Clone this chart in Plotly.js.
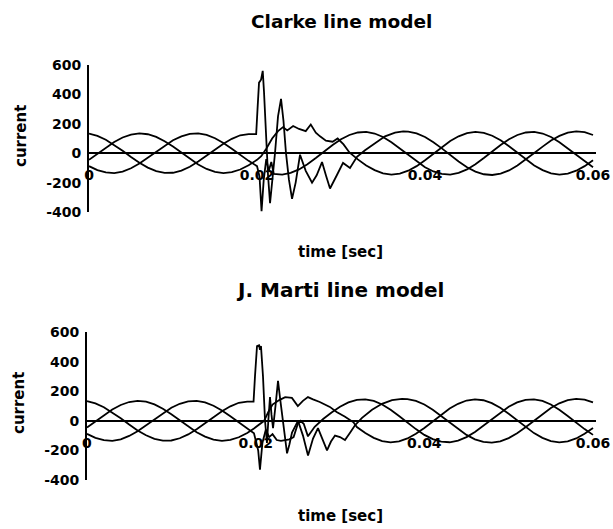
<!DOCTYPE html>
<html>
<head>
<meta charset="utf-8">
<script src="https://cdn.plot.ly/plotly-3.0.1.min.js"></script>
<style>html,body{margin:0;padding:0;background:#fff;}#chart{width:613px;height:529px;}</style>
</head>
<body>
<div id="chart"></div>
<script>
// ---- shared pre-fault samples (0 .. 0.019 s) ----
const preTime = [0,0.001,0.002,0.003,0.004,0.005,0.006,0.007,0.008,0.009,0.010,0.011,0.012,0.013,0.014,0.015,0.016,0.017,0.018,0.019];
const preA = [133,118,92,57,17,-25,-65,-98,-122,-134,-133,-118,-92,-57,-17,25,65,98,122,130];
const preB = [-45,-3,39,77,107,127,135,129,111,82,45,3,-39,-77,-107,-127,-135,-129,-111,-82];
const preC = [-88,-115,-131,-135,-125,-102,-70,-31,11,52,88,115,131,135,125,102,70,31,-11,-52];

// ---- shared post-fault samples ----
const postTimeA = [0.038,0.039,0.040,0.041,0.042,0.043,0.044,0.045,0.046,0.047,0.048,0.049,0.050,0.051,0.052,0.053,0.054,0.055,0.056,0.057,0.058,0.059,0.060];
const postA = [147,135,110,75,33,-12,-56,-95,-125,-143,-148,-139,-117,-84,-44,1,45,86,118,140,148,143,124];
const postTime = [0.032,0.033,0.034,0.035,0.036,0.037,0.038,0.039,0.040,0.041,0.042,0.043,0.044,0.045,0.046,0.047,0.048,0.049,0.050,0.051,0.052,0.053,0.054,0.055,0.056,0.057,0.058,0.059,0.060];
const postB = [-42,-83,-115,-137,-145,-139,-119,-88,-48,-3,42,83,115,137,145,139,119,88,48,3,-42,-83,-115,-137,-145,-139,-119,-88,-48];
const postC = [141,145,134,110,75,33,-12,-56,-95,-124,-141,-145,-134,-110,-75,-33,12,56,95,124,141,145,134,110,75,33,-12,-56,-95];

// ---- Clarke line model: fault transient ----
const clarkeTimeA = [0.0195,0.0199,0.02006,0.02024,0.02048,0.02068,0.02083,0.02107,0.02131,0.02155,0.02185,0.02214,0.0225,0.02286,0.02315,0.02345,0.0238,0.02417,0.0246,0.02512,0.0258,0.02655,0.0271,0.02774,0.0282,0.02869,0.0295,0.03024,0.03107,0.0319,0.03286,0.03405,0.03524,0.03643,0.0374];
const clarkeA = [130,130,300,480,500,560,420,100,-150,-340,-180,0,250,370,220,0,-180,-310,-200,-10,-120,-200,-150,-60,-150,-240,-150,-66,-100,-25,20,70,115,140,148];
const clarkeTimeB = [0.020,0.0205,0.0211,0.0218,0.0225,0.0231,0.0236,0.0243,0.025,0.0258,0.0264,0.027,0.0275,0.0282,0.029,0.0296,0.0303,0.031];
const clarkeB = [-45,-20,30,100,150,178,155,185,165,150,195,140,115,85,78,100,60,5];
const clarkeTimeC = [0.020,0.0203,0.02054,0.0208,0.0211,0.0214,0.0217,0.022,0.023,0.024,0.025,0.026,0.027,0.028,0.029,0.030,0.031];
const clarkeC = [-88,-160,-395,-180,-40,-120,-60,-141,-145,-134,-110,-75,-33,12,56,95,124];

// ---- J. Marti line model: fault transient ----
const martiTimeA = [0.0195,0.01975,0.01992,0.02016,0.0204,0.02051,0.02063,0.02087,0.02111,0.02134,0.0215,0.0217,0.02188,0.02206,0.02235,0.02265,0.0229,0.02312,0.0234,0.02372,0.024,0.02431,0.02502,0.02561,0.02621,0.0265,0.0268,0.02739,0.02799,0.02846,0.02893,0.02941,0.03,0.03059,0.03119,0.03178,0.03261,0.0338,0.03498,0.03617,0.03735];
const martiA = [130,130,300,505,510,480,505,300,0,-150,0,160,40,-50,100,270,150,40,-100,-220,-160,-80,0,-100,-235,-180,-120,-50,-140,-200,-140,-100,-110,-130,-80,-30,20,75,115,140,148];
const martiTimeB = [0.0198,0.0205,0.021,0.0215,0.022,0.0228,0.0235,0.0243,0.025,0.0256,0.0262,0.0268,0.0276,0.0288,0.0296,0.0306,0.0316];
const martiB = [-52,-25,0,60,110,140,160,155,100,135,160,145,127,94,60,27,-10];
const martiTimeC = [0.0198,0.0203,0.02051,0.0208,0.0212,0.0216,0.022,0.0225,0.023,0.024,0.0245,0.025,0.0253,0.0257,0.0262,0.027,0.028,0.029,0.030,0.031];
const martiC = [-85,-200,-330,-150,-60,-110,-90,-130,-135,-125,-110,-20,0,-20,-105,-40,12,56,95,124];

// ---- ticks & texts ----
const xTickVals = [0, 0.02, 0.04, 0.06];
const xTickText = ['0', '0.02', '0.04', '0.06'];
const yTickVals = [-400, -200, 0, 200, 400, 600];
const yTickText = ['-400', '-200', '0', '200', '400', '600'];
const titleTop = 'Clarke line model';
const titleBottom = 'J. Marti line model';
const xTitle = 'time [sec]';
const yTitle = 'current';

const FONT = 'DejaVu Sans, Arial, sans-serif';
const lineStyle = {color: '#000', width: 1.8};

function tr(x, y, xa, ya) {
  return {x: x, y: y, type: 'scatter', mode: 'lines', line: lineStyle, xaxis: xa, yaxis: ya, hoverinfo: 'skip'};
}

const data = [
  tr(preTime.concat(clarkeTimeA, postTimeA), preA.concat(clarkeA, postA), 'x', 'y'),
  tr(preTime.concat(clarkeTimeB, postTime), preB.concat(clarkeB, postB), 'x', 'y'),
  tr(preTime.concat(clarkeTimeC, postTime), preC.concat(clarkeC, postC), 'x', 'y'),
  tr(preTime.concat(martiTimeA, postTimeA), preA.concat(martiA, postA), 'x2', 'y2'),
  tr(preTime.concat(martiTimeB, postTime), preB.concat(martiB, postB), 'x2', 'y2'),
  tr(preTime.concat(martiTimeC, postTime), preC.concat(martiC, postC), 'x2', 'y2')
];

const tickFont = {family: FONT, size: 14, color: '#000', weight: 'bold'};

function xAx(domain, pos) {
  return {domain: domain, range: [0, 0.0604], anchor: 'free', position: pos,
    tickmode: 'array', tickvals: xTickVals, ticktext: xTickText,
    ticks: 'outside', ticklen: 9, tickcolor: 'rgba(0,0,0,0)',
    showline: false, showgrid: false, zeroline: false, tickfont: tickFont, fixedrange: true};
}
function yAx(domain, anchor) {
  return {domain: domain, range: [-400, 600], anchor: anchor,
    tickmode: 'array', tickvals: yTickVals, ticktext: yTickText,
    ticks: 'outside', ticklen: 3, tickcolor: 'rgba(0,0,0,0)',
    showline: true, linewidth: 2, linecolor: '#000',
    zeroline: true, zerolinewidth: 2, zerolinecolor: '#000',
    showgrid: false, tickfont: tickFont, fixedrange: true};
}

function px(x) { return x / 613; }
function py(y) { return 1 - y / 529; }
function ann(text, x, y, size, angle) {
  return {text: text, xref: 'paper', yref: 'paper', x: px(x), y: py(y),
    xanchor: 'center', yanchor: 'middle', showarrow: false, textangle: angle || 0,
    font: {family: FONT, size: size, color: '#000', weight: 'bold'}};
}

const layout = {
  width: 613, height: 529,
  margin: {l: 0, r: 0, t: 0, b: 0},
  paper_bgcolor: '#fff', plot_bgcolor: '#fff',
  showlegend: false,
  xaxis: xAx([0.1452, 0.9729], 0.7104),
  yaxis: yAx([0.5992, 0.8771], 'x'),
  xaxis2: xAx([0.1419, 0.9729], 0.2045),
  yaxis2: yAx([0.0926, 0.3724], 'x2'),
  annotations: [
    ann(titleTop, 341, 21, 18.5),
    ann(xTitle, 340, 252, 15),
    ann(yTitle, 21, 136, 15, -90),
    ann(titleBottom, 340, 290, 20),
    ann(xTitle, 340, 516, 15),
    ann(yTitle, 19, 403, 15, -90)
  ]
};

Plotly.newPlot('chart', data, layout, {staticPlot: true, displayModeBar: false});
</script>
</body>
</html>
